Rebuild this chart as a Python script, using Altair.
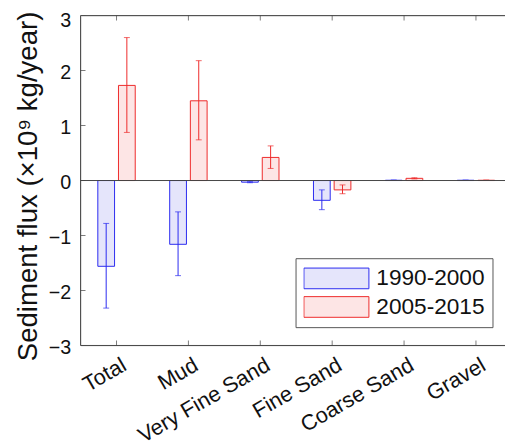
import altair as alt
import pandas as pd

categories = ["Total", "Mud", "Very Fine Sand", "Fine Sand", "Coarse Sand", "Gravel"]
series_names = ["1990-2000", "2005-2015"]
flux_1990 = [-1.56, -1.16, -0.03, -0.36, 0.005, 0.005]
low_1990 = [-2.32, -1.73, -0.04, -0.53, 0.0, 0.003]
high_1990 = [-0.78, -0.57, -0.02, -0.17, 0.01, 0.007]
flux_2005 = [1.73, 1.45, 0.42, -0.17, 0.04, 0.005]
low_2005 = [0.875, 0.74, 0.22, -0.24, 0.03, 0.003]
high_2005 = [2.60, 2.18, 0.63, -0.08, 0.05, 0.007]
y_ticks = [-3, -2, -1, 0, 1, 2, 3]

fill_colors = ["#e5e5fb", "#fde5e5"]
edge_colors = ["#2a2af0", "#ee2a2a"]
axis_gray = "#444444"

rows = []
for s, vals, lo, hi in [(series_names[0], flux_1990, low_1990, high_1990),
                        (series_names[1], flux_2005, low_2005, high_2005)]:
    for c, v, l, h in zip(categories, vals, lo, hi):
        rows.append({"cat": c, "series": s, "flux": v, "lo": l, "hi": h})
df = pd.DataFrame(rows)

W, H = 431, 335
x_scale = alt.Scale(domain=categories, range=[0, 438], paddingInner=0.425, paddingOuter=0.2125)
xoff_scale = alt.Scale(domain=series_names, paddingInner=0.19, paddingOuter=0.095)
y_scale = alt.Scale(domain=[-3, 3], nice=False)

x_axis = alt.Axis(title=None, labelAngle=330, labelAlign="right", labelBaseline="top",
                  labelFontSize=22, ticks=False, domain=False, labelPadding=9,
                  labelOffset=3, labelColor="#111111")
y_axis = alt.Axis(title="Sediment flux (×10⁹ kg/year)", values=y_ticks, ticks=False,
                  domain=False, grid=False, labelFontSize=20, labelPadding=10,
                  labelOffset={"condition": {"test": "datum.value == 3", "value": 5}, "value": 2.5},
                  titleFontSize=28, titleFontWeight="normal", titlePadding=6, titleY=173,
                  labelColor="#111111", titleColor="#111111")

legend = alt.Legend(title=None, orient="none", legendX=218.3, legendY=246.4,
                    symbolType="M-1,-0.318H1V0.318H-1Z", symbolSize=4356,
                    symbolStrokeWidth=1, clipHeight=25, rowPadding=4,
                    labelFontSize=23, labelOffset=7, labelColor="#111111",
                    padding=8, strokeColor="#555555", fillColor="white",
                    cornerRadius=0, symbolOpacity=1)

X = alt.X("cat:N", scale=x_scale, sort=categories, axis=x_axis)
XO = alt.XOffset("series:N", scale=xoff_scale)

bars = alt.Chart(df).mark_bar(strokeWidth=1, opacity=1).encode(
    x=X, xOffset=XO,
    y=alt.Y("flux:Q", scale=y_scale, axis=y_axis),
    fill=alt.Fill("series:N", scale=alt.Scale(domain=series_names, range=fill_colors), legend=legend),
    stroke=alt.Stroke("series:N", scale=alt.Scale(domain=series_names, range=edge_colors), legend=legend),
)

layers = [bars]
for s, col in zip(series_names, edge_colors):
    sub = alt.Chart(df).transform_filter(alt.datum.series == s)
    layers.append(sub.mark_rule(color=col, strokeWidth=1).encode(
        x=X, xOffset=XO,
        y=alt.Y("lo:Q", scale=y_scale, axis=y_axis), y2="hi:Q"))
    layers.append(sub.transform_fold(["lo", "hi"], as_=["end", "val"]).mark_tick(
        color=col, size=6, thickness=1, orient="horizontal").encode(
        x=X, xOffset=XO,
        y=alt.Y("val:Q", scale=y_scale, axis=y_axis)))

zero_line = alt.Chart(pd.DataFrame({"z": [0]})).mark_rule(color=axis_gray, strokeWidth=1).encode(
    y=alt.Y("z:Q", scale=y_scale, axis=y_axis))
layers.append(zero_line)

# box borders
layers.append(alt.Chart(pd.DataFrame({"a": [0]})).mark_rule(color=axis_gray, strokeWidth=1).encode(y=alt.value(0)))
layers.append(alt.Chart(pd.DataFrame({"a": [0]})).mark_rule(color=axis_gray, strokeWidth=1).encode(y=alt.value(H)))
layers.append(alt.Chart(pd.DataFrame({"a": [0]})).mark_rule(color=axis_gray, strokeWidth=1).encode(x=alt.value(0)))

# inward ticks
tick_df = pd.DataFrame({"v": y_ticks})
layers.append(alt.Chart(tick_df).mark_tick(color=axis_gray, size=10, thickness=1,
                                           orient="horizontal", clip=True).encode(
    y=alt.Y("v:Q", scale=y_scale, axis=y_axis), x=alt.value(0)))
cat_df = pd.DataFrame({"cat": categories})
for yy in [0, H]:
    layers.append(alt.Chart(cat_df).mark_tick(color=axis_gray, size=10, thickness=1,
                                              orient="vertical", clip=True).encode(
        x=X, y=alt.value(yy)))

chart = alt.layer(*layers).properties(
    width=W, height=H, autosize="none",
    padding={"left": 73.7, "top": 4.3, "right": 0, "bottom": 100},
).configure_view(stroke=None).configure(font="Liberation Sans")

chart.save("out.html", embed_options={"renderer": "svg", "actions": False})
